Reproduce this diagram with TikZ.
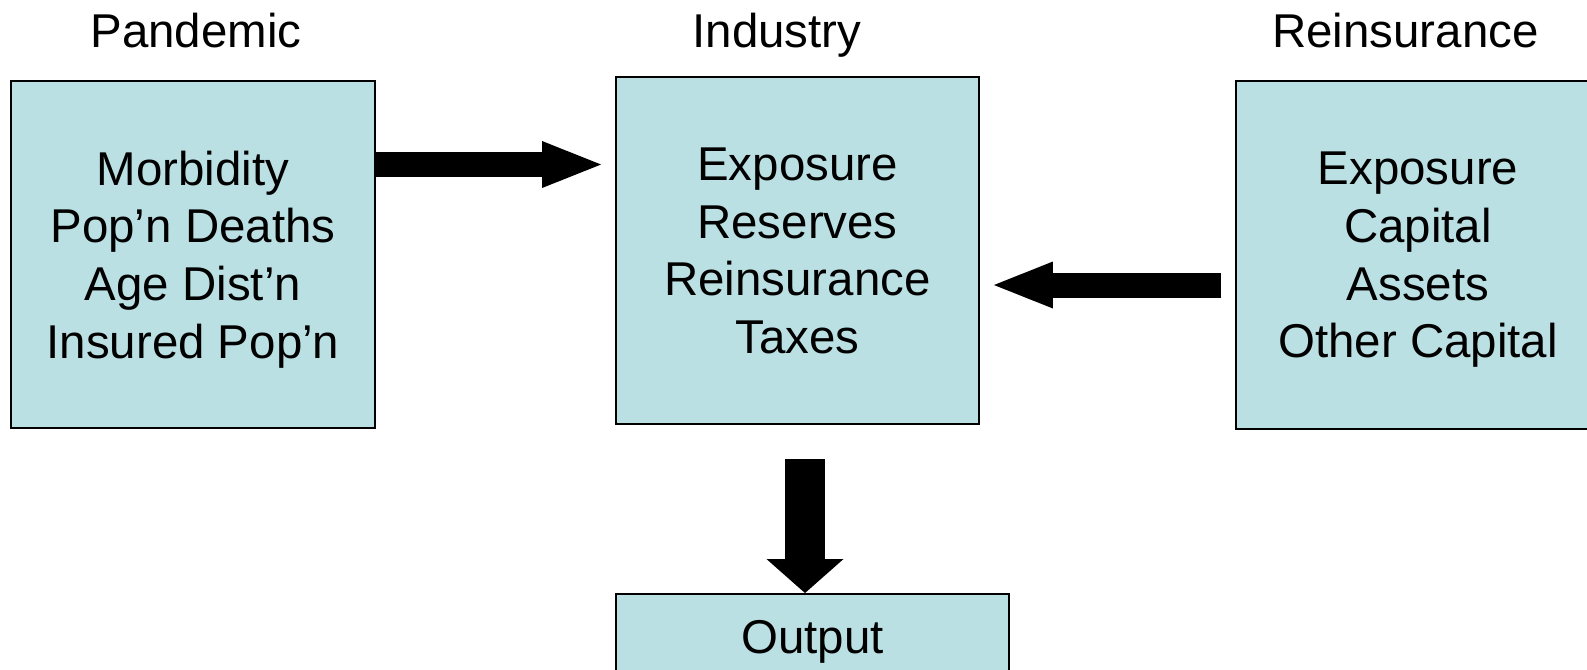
\documentclass[tikz,border=0pt]{standalone}
\usepackage{fontspec}
\setmainfont{Liberation Sans}
\usepackage{tikz}
\usetikzlibrary{arrows.meta,calc}
\pgfdeclarelayer{bg}
\pgfsetlayers{bg,main}
\definecolor{boxblue}{RGB}{187,224,227}
\newcommand{\boxfont}{\fontsize{27}{32.8}\selectfont}
\tikzset{
        blockbox/.style={draw, line width=1.1pt, fill=boxblue, minimum width=7.28cm, minimum height=6.94cm, align=center, inner sep=0pt, text depth=0pt, font=\boxfont},
        heading/.style={anchor=base, font=\boxfont},
        bigarrow/.style={line width=0.5cm, -{Triangle[length=1.18cm, width=0.94cm, line width=0pt]}},
        downarrow/.style={line width=0.8cm, -{Triangle[length=0.68cm, width=1.54cm, line width=0pt]}}
}
\begin{document}
\begin{tikzpicture}
        \useasboundingbox (0cm, 0cm) rectangle (31.74cm, -13.38cm);
        \node (pantitle) [heading] at (3.92cm, -0.95cm) {Pandemic};
        \node (indtitle) [heading] at (15.54cm, -0.95cm) {Industry};
        \node (reititle) [heading] at (28.11cm, -0.95cm) {Reinsurance};
        \node (pan) [blockbox] at (3.86cm, -5.09cm) {Morbidity\\Pop’n Deaths\\Age Dist’n\\Insured Pop’n};
        \node (ind) [blockbox, minimum width=7.26cm] at (15.95cm, -5.01cm) {Exposure\\Reserves\\Reinsurance\\Taxes};
        \node (rei) [blockbox, minimum height=6.96cm] at (28.36cm, -5.10cm) {Exposure\\Capital\\Assets\\Other Capital};
        \node (out) [blockbox, minimum width=7.86cm, minimum height=1.72cm] at (16.25cm, -12.74cm) {Output};
        \begin{pgfonlayer}{bg}
                \draw [bigarrow] ([yshift=1.8cm]pan.east) coordinate (a1) -- ($(a1 -| ind.west)+(-0.28,0)$);
                \draw [bigarrow] ([xshift=-0.28cm, yshift=-0.6cm]rei.west) coordinate (a2) -- ($(a2 -| ind.east)+(0.28,0)$);
                \draw [downarrow] ([xshift=0.15cm, yshift=-0.68cm]ind.south) coordinate (a3) -- (a3 |- out.north);
        \end{pgfonlayer}
\end{tikzpicture}
\end{document}
